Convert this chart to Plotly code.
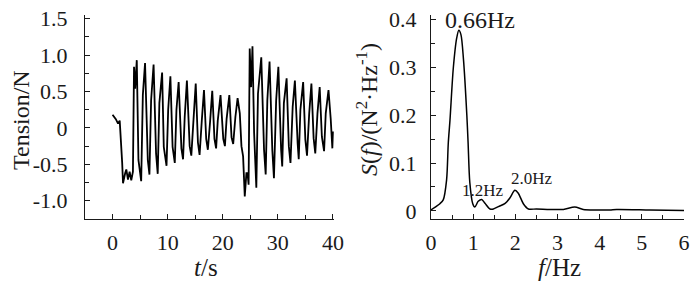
import plotly.graph_objects as go

# Left panel: tension time history
t_s = [0, 0.3, 0.6, 1.0, 1.3, 1.75, 1.9, 2.3, 2.5, 2.8, 3.1, 3.4, 3.7,
       3.9, 4.1, 4.4, 4.7, 5.2, 5.5, 5.9, 6.4, 6.7, 7.0, 7.45, 7.9, 8.2,
       8.5, 9.0, 9.3, 9.8, 10.1, 10.5, 10.9, 11.3, 11.6, 12.0, 12.5, 12.8,
       13.1, 13.5, 14.0, 14.3, 14.7, 15.1, 15.5, 15.8, 16.2, 16.6, 17.0,
       17.3, 17.7, 18.1, 18.5, 18.8, 19.1, 19.6, 20.1, 20.4, 20.7, 21.2,
       21.6, 21.9, 22.3, 22.7, 23.1, 23.4, 23.7, 24.0, 24.3, 24.5, 24.7,
       24.9, 25.15, 25.4, 25.7, 26.1, 26.4, 26.7, 27.0, 27.5, 27.8, 28.1,
       28.5, 29.0, 29.3, 29.7, 30.1, 30.6, 30.8, 31.1, 31.6, 32.0, 32.3,
       32.7, 33.1, 33.6, 33.8, 34.1, 34.6, 35.0, 35.3, 35.7, 36.1, 36.5,
       36.8, 37.2, 37.6, 38.0, 38.4, 38.7, 39.2, 39.6, 39.9, 40.0]
tension_N = [0.18, 0.15, 0.12, 0.06, 0.10, -0.48, -0.76, -0.62, -0.57, -0.71,
             -0.60, -0.72, -0.60, 0.84, 0.54, 0.93, -0.44, -0.73, 0.45, 0.89,
             -0.44, -0.64, 0.38, 0.87, -0.35, -0.63, 0.34, 0.76, -0.26, -0.52,
             0.25, 0.71, -0.26, -0.48, 0.25, 0.63, -0.28, -0.43, 0.15, 0.65,
             -0.25, -0.38, 0.10, 0.61, -0.20, -0.37, 0.10, 0.52, -0.15, -0.30,
             0.08, 0.51, -0.15, -0.28, 0.10, 0.45, -0.15, -0.25, 0.12, 0.45,
             -0.13, -0.22, 0.15, 0.41, 0.20, -0.25, -0.39, -0.94, -0.62, -0.62,
             -0.78, 1.09, 0.56, 1.12, -0.07, -0.82, 0.47, 0.70, 0.97, -0.30,
             -0.64, 0.38, 0.91, -0.30, -0.69, 0.38, 0.84, -0.30, -0.53, 0.34,
             0.68, -0.25, -0.48, 0.29, 0.65, -0.21, -0.43, 0.25, 0.63, -0.16,
             -0.38, 0.20, 0.61, -0.14, -0.35, 0.20, 0.56, -0.12, -0.32, 0.20,
             0.52, 0.13, -0.28, -0.05]

# Right panel: spectrum
f_Hz = [0, 0.1, 0.21, 0.29, 0.37, 0.41, 0.45, 0.53, 0.61, 0.66, 0.71, 0.77,
        0.85, 0.88, 0.92, 0.99, 1.04, 1.12, 1.2, 1.28, 1.4, 1.48, 1.6, 1.75,
        1.87, 1.99, 2.07, 2.19, 2.31, 2.5, 2.82, 3.14, 3.41, 3.61, 3.93,
        4.24, 4.4, 5.19, 6.0]
S_f = [0.002, 0.008, 0.015, 0.023, 0.065, 0.142, 0.19, 0.30, 0.362, 0.378,
       0.369, 0.317, 0.20, 0.142, 0.06, 0.015, 0.008, 0.02, 0.024, 0.016,
       0.004, 0.004, 0.009, 0.015, 0.027, 0.043, 0.037, 0.015, 0.004, 0.004,
       0.003, 0.003, 0.008, 0.003, 0.002, 0.002, 0.003, 0.002, 0.001]

left_yticks = [-1.0, -0.5, 0, 0.5, 1.0, 1.5]
left_ytext = ["-1.0", "-0.5", "0", "0.5", "1.0", "1.5"]
left_xticks = [0, 10, 20, 30, 40]
right_yticks = [0, 0.1, 0.2, 0.3, 0.4]
right_ytext = ["0", "0.1", "0.2", "0.3", "0.4"]
right_xticks = [0, 1, 2, 3, 4, 5, 6]

peak_labels = ["0.66Hz", "1.2Hz", "2.0Hz"]

FONT = "Liberation Serif"
INK = "#1a1a1a"

# page body has an 8px margin; lay out in reference-pixel coordinates
OFF = 8
W, H = 700 - OFF, 285 - OFF


def px(x):
    return (x - OFF) / W


def py(y):
    return 1 - (y - OFF) / H


fig = go.Figure()
fig.add_trace(go.Scatter(x=t_s, y=tension_N, mode="lines",
                         line=dict(color="black", width=1.8),
                         xaxis="x", yaxis="y", showlegend=False))
fig.add_trace(go.Scatter(x=f_Hz, y=S_f, mode="lines", line_shape="spline",
                         line=dict(color="black", width=1.5, smoothing=0.8),
                         xaxis="x2", yaxis="y2", showlegend=False))

axis_common = dict(showline=True, linecolor=INK, linewidth=1.2, showgrid=False,
                   zeroline=False, ticks="inside", ticklen=5, tickcolor=INK,
                   tickwidth=1, automargin=False, ticklabeloverflow="allow",
                   tickfont=dict(family=FONT, size=22, color=INK))

fig.update_layout(
    template="none",
    width=W, height=H,
    margin=dict(l=0, r=0, t=0, b=0),
    font=dict(family=FONT, color=INK),
    paper_bgcolor="white", plot_bgcolor="white",
    xaxis=dict(domain=[px(85), px(334)], range=[-5, 40.2], anchor="y",
               tickvals=left_xticks, ticklabelstandoff=3,
               minor=dict(dtick=5, ticks="inside", ticklen=4, tickcolor=INK),
               **axis_common),
    yaxis=dict(domain=[py(219), py(15)], range=[-1.25, 1.55], anchor="x",
               tickvals=left_yticks, ticktext=left_ytext, ticklabelstandoff=12,
               minor=dict(dtick=0.25, ticks="inside", ticklen=4, tickcolor=INK),
               **axis_common),
    xaxis2=dict(domain=[px(431), px(684)], range=[0, 6.0], anchor="y2",
                tickvals=right_xticks, ticklabelstandoff=3,
                minor=dict(dtick=0.5, ticks="inside", ticklen=4, tickcolor=INK),
                **axis_common),
    yaxis2=dict(domain=[py(219), py(15)], range=[-0.017, 0.41], anchor="x2",
                tickvals=right_yticks, ticktext=right_ytext, ticklabelstandoff=9,
                minor=dict(dtick=0.05, ticks="inside", ticklen=4, tickcolor=INK),
                **axis_common),
)


def label(text, x, y, size, angle=0):
    return dict(text=text, x=px(x), y=py(y), xref="paper", yref="paper",
                xanchor="center", yanchor="middle", textangle=angle,
                showarrow=False, font=dict(family=FONT, size=size, color=INK))


ann = [
    label("Tension/N", 21, 120, 24, -90),
    label("<i>t</i>/s", 206, 267, 25),
    label("<i>S</i>(<i>f</i>)/(N<sup>2</sup>·Hz<sup>-1</sup>)", 367, 110, 24, -90),
    label("<i>f</i>/Hz", 559, 267, 25),
    label(peak_labels[0], 480, 20, 24),
    label(peak_labels[1], 483, 190, 17),
    label(peak_labels[2], 532, 178, 17),
]
fig.update_layout(annotations=ann)

fig.write_html("out.html")
